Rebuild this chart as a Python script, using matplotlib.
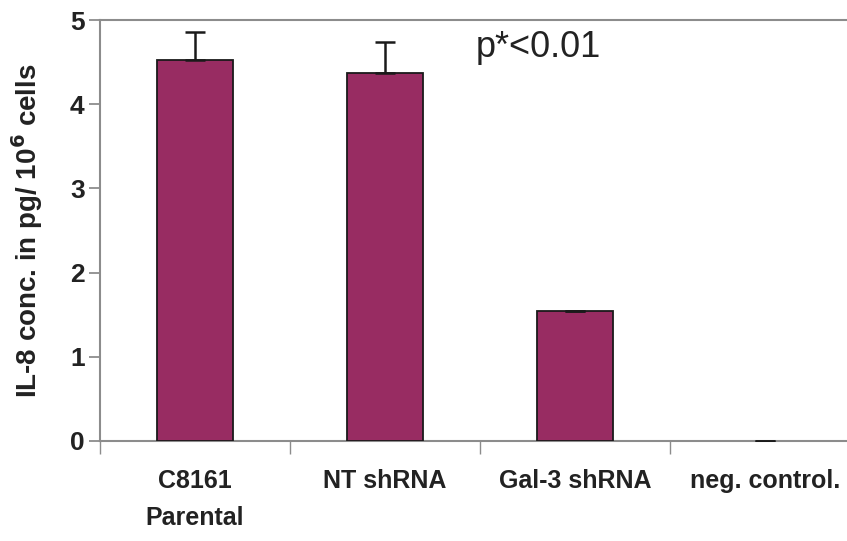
import matplotlib.pyplot as plt
import numpy as np

# Data

categories = ["C8161\nParental", "NT shRNA", "Gal-3 shRNA", "neg. control."]
values = [4.52, 4.37, 1.54, 0.0]
errors = [0.34, 0.37, 0.0, 0.0]

bar_color = "#982c62"
grey = "#8c8c8c"

plt.rcParams['font.family'] = ['Liberation Sans', 'DejaVu Sans']

fig = plt.figure(figsize=(8.47, 5.41), dpi=100)
ax = fig.add_axes([0.118, 0.185, 0.897, 0.778])

x = np.arange(len(categories))
edge_widths = [1.3 if v > 0 else 0 for v in values]
ax.bar(x, values, width=0.4, color=bar_color, edgecolor="#1a1a1a", linewidth=edge_widths, zorder=3)
ax.errorbar(x, values, yerr=[np.zeros(len(errors)), errors], fmt="none",
            ecolor="#1a1a1a", elinewidth=1.8, capsize=7, capthick=1.8, zorder=4)

ax.set_xlim(-0.5, 3.5)
ax.set_ylim(0, 5)

# Axes and spines

for side in ["left", "bottom", "top"]:
    ax.spines[side].set_color(grey)
    ax.spines[side].set_linewidth(1.5)
ax.spines["right"].set_visible(False)

ax.set_yticks([0, 1, 2, 3, 4, 5])
ax.set_yticklabels(["0", "1", "2", "3", "4", "5"], fontsize=19, fontweight="bold", color="#222222")
ax.tick_params(axis="y", direction="out", length=8, width=1.3, color=grey, pad=3)

ax.set_xticks(x)
ax.set_xticklabels(categories, fontsize=18, fontweight="bold", color="#222222", linespacing=1.7)
ax.tick_params(axis="x", which="major", length=0, pad=20)
ax.set_xticks(np.arange(-0.5, 3.6, 1), minor=True)
ax.tick_params(axis="x", which="minor", direction="out", length=9, width=1.0, color=grey)

ax.set_ylabel(r"IL-8 conc. in pg/ 10$^{\mathbf{6}}$ cells", fontsize=20, fontweight="bold",
              color="#222222", labelpad=18)

ax.text(1.48, 4.56, "p*<0.01", fontsize=26, color="#222222", va="baseline")

plt.savefig("out.png", dpi=100)
